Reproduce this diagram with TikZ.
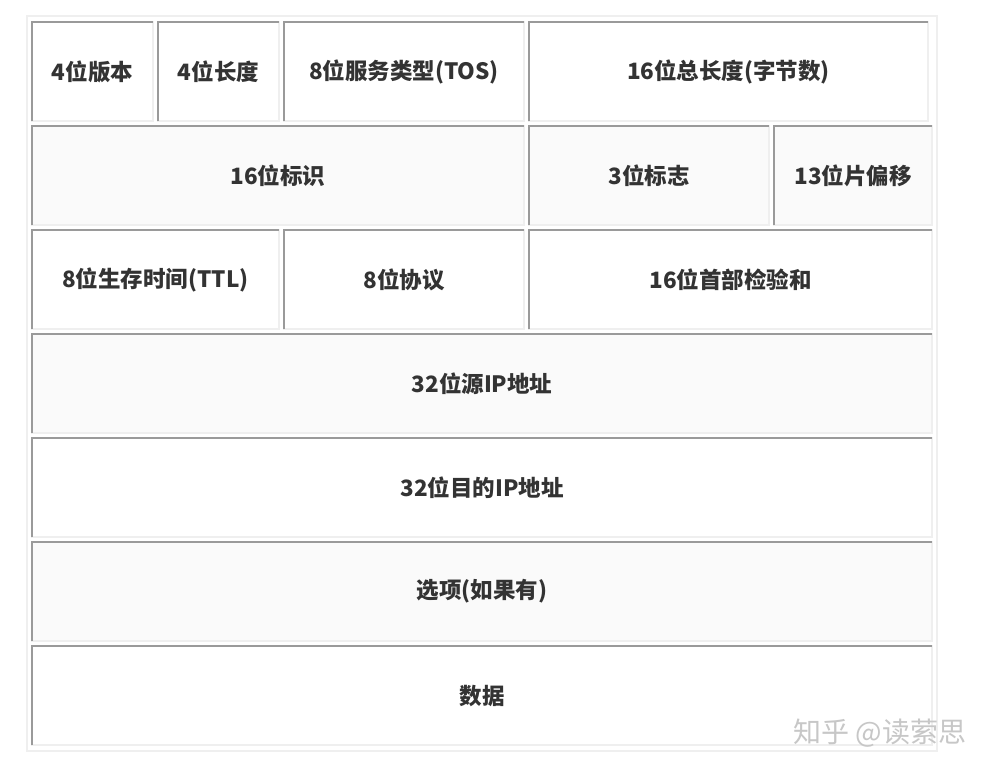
\documentclass[tikz,border=0pt]{standalone}
\usepackage{fontspec}
\usepackage{xcolor}
\usepackage{tikz}
\newfontfamily\cjk{Noto Sans CJK SC}
\definecolor{darkline}{HTML}{9A9A9A}
\definecolor{lightline}{HTML}{EFEFEF}
\definecolor{rowgray}{HTML}{FAFAFA}
\definecolor{txt}{HTML}{333333}
\tikzset{cell/.style={rectangle,draw=lightline,line width=1.5pt,fill=white,minimum height=99pt,inner sep=0pt,outer sep=0pt,font=\cjk\bfseries\fontsize{22.5}{26}\selectfont,text=txt}}
\tikzset{gcell/.style={cell,fill=rowgray}}
\tikzset{edge/.style={draw=darkline,line width=1.8pt}}
\begin{document}
\begin{tikzpicture}[x=1pt,y=-1pt]
        \useasboundingbox (0,0) rectangle (1000,776);
        \draw [lightline,line width=2pt] (27,16) rectangle (937,751);

        \node[cell,minimum width=121pt] (ver)at (92.5,71.5) {4位版本};
        \node[cell,minimum width=121pt] (ihl)at (218.5,71.5) {4位长度};
        \node[cell,minimum width=240pt] (tos)at (404,71.5) {8位服务类型(TOS)};
        \node[cell,minimum width=399pt] (len)at (728.5,71.5) {16位总长度(字节数)};

        \node[gcell,minimum width=492pt] (id)at (278,175.5) {16位标识};
        \node[gcell,minimum width=240pt] (flag)at (649,175.5) {3位标志};
        \node[gcell,minimum width=158pt] (off)at (853,175.5) {13位片偏移};

        \node[cell,minimum width=247pt] (ttl)at (155.5,279.5) {8位生存时间(TTL)};
        \node[cell,minimum width=240pt] (proto)at (404,279.5) {8位协议};
        \node[cell,minimum width=403pt] (sum)at (730.5,279.5) {16位首部检验和};

        \node[gcell,minimum width=900pt] (src)at (482,383.5) {32位源IP地址};
        \node[cell,minimum width=900pt] (dst)at (482,487.5) {32位目的IP地址};
        \node[gcell,minimum width=900pt] (opt)at (482,591.5) {选项(如果有)};
        \node[cell,minimum width=900pt] (data)at (482,695.5) {数据};

        \foreach \n in {ver,ihl,tos,len,id,flag,off,ttl,proto,sum,src,dst,opt,data}
            \draw [edge] (\n.south west) |- (\n.north east);

        \node[text=black!22,font=\cjk\fontsize{28}{32}\selectfont] (mark)at (880,733) {知乎 @读萦思};
    \end{tikzpicture}
\end{document}
